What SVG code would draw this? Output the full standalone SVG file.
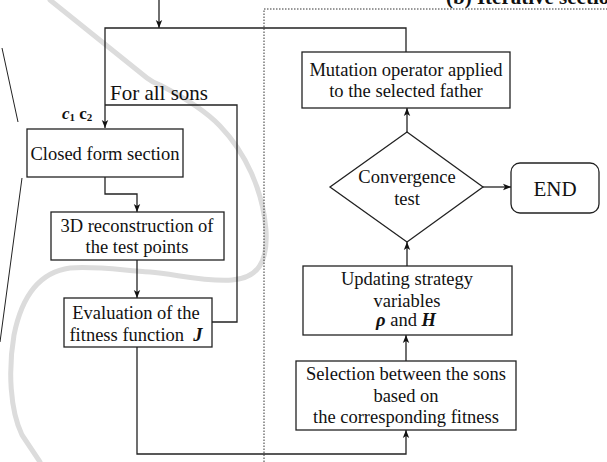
<svg xmlns="http://www.w3.org/2000/svg" width="607" height="462" viewBox="0 0 607 462">
<style>
.box{fill:#fff;stroke:#222;stroke-width:1.3}
.ln{fill:none;stroke:#222;stroke-width:1.3}
.t{font-family:"Liberation Serif","Times New Roman",serif;font-size:18.5px;fill:#111;text-anchor:middle}
.dot{fill:none;stroke:#333;stroke-width:1;stroke-dasharray:1.5 1.5}
</style>
<defs>
<marker id="ah" markerUnits="userSpaceOnUse" markerWidth="8" markerHeight="8" viewBox="0 0 8 8" refX="8" refY="4" orient="auto">
<path d="M0,0.8 L8,4 L0,7.2 L2,4 Z" fill="#111"/>
</marker>
</defs>
<rect width="607" height="462" fill="#fff"/>

<!-- callout lines and highlight curve -->
<g id="decor">
<path d="M50,0 L147,78 Q152,82 160,85 C185,98 205,110 220,126 C245,152 263,190 266,230 C268,262 258,278 232,280 C205,282 175,274 150,272 C120,270 95,266 70,268 C40,272 22,295 14,335 C8,370 10,410 22,435 L40,462" fill="none" stroke="#dcdcdc" stroke-width="5" stroke-linecap="round"/>
<line x1="2" y1="48" x2="18" y2="122" stroke="#222" stroke-width="1"/>
<line x1="22" y1="178" x2="0" y2="342" stroke="#222" stroke-width="1"/>
<path class="dot" d="M264,462 L264,9 L607,9"/>
<text x="446" y="4" style="font-family:'Liberation Serif',serif;font-size:21px;font-weight:bold;fill:#111">(b) Iterative section</text>
</g>

<g id="connectors">
<line class="ln" x1="159" y1="0" x2="159" y2="28" marker-end="url(#ah)"/>
<polyline class="ln" points="406,52 406,28 105,28 105,128" marker-end="url(#ah)"/>
<polyline class="ln" points="212,322 237,322 237,105 105,105"/>
<polyline class="ln" points="105,177 105,194 137,194 137,212" marker-end="url(#ah)"/>
<line class="ln" x1="137" y1="260" x2="137" y2="298" marker-end="url(#ah)"/>
<polyline class="ln" points="137,347 137,454 406,454 406,430" marker-end="url(#ah)"/>
<line class="ln" x1="406" y1="361" x2="406" y2="335" marker-end="url(#ah)"/>
<line class="ln" x1="407" y1="266" x2="407" y2="242" marker-end="url(#ah)"/>
<line class="ln" x1="407" y1="132" x2="407" y2="108" marker-end="url(#ah)"/>
<line class="ln" x1="483" y1="187" x2="511" y2="187" marker-end="url(#ah)"/>
<text x="110" y="100" style="font-family:'Liberation Serif',serif;font-size:21px;fill:#111">For all sons</text>
<text x="62" y="119" style="font-family:'Liberation Serif',serif;font-size:17px;font-weight:bold;fill:#111"><tspan font-style="italic">c</tspan><tspan font-size="11" dy="2">1</tspan><tspan dy="-2"> c</tspan><tspan font-size="11" dy="2">2</tspan></text>
</g>

<g id="closed">
<rect class="box" x="27" y="129" width="156" height="48"/>
<text class="t" x="105" y="160">Closed form section</text>
</g>

<g id="recon">
<rect class="box" x="51" y="212" width="173" height="48"/>
<text class="t" x="137" y="232">3D reconstruction of</text>
<text class="t" x="137" y="253">the test points</text>
</g>

<g id="eval">
<rect class="box" x="64" y="298" width="148" height="49"/>
<text class="t" x="136" y="319">Evaluation of the</text>
<text class="t" x="136" y="341">fitness function&#160;&#160;<tspan font-style="italic" font-weight="bold">J</tspan></text>
</g>

<g id="mutation">
<rect class="box" x="302" y="52" width="208" height="56"/>
<text class="t" x="406" y="76">Mutation operator applied</text>
<text class="t" x="406" y="97">to the selected father</text>
</g>

<g id="convergence">
<polygon class="box" points="407,132 483,187 407,242 330,187"/>
<text class="t" x="407" y="183">Convergence</text>
<text class="t" x="407" y="205">test</text>
</g>

<g id="end">
<rect class="box" x="511" y="163" width="88" height="50" rx="9"/>
<text class="t" x="555" y="196" style="font-size:21px">END</text>
</g>

<g id="updating">
<rect class="box" x="303" y="266" width="209" height="69"/>
<text class="t" x="407" y="285">Updating strategy</text>
<text class="t" x="407" y="307">variables</text>
<text class="t" x="406" y="326"><tspan font-style="italic" font-weight="bold">ρ</tspan> and <tspan font-style="italic" font-weight="bold">H</tspan></text>
</g>

<g id="selection">
<rect class="box" x="296" y="361" width="220" height="69"/>
<text class="t" x="406" y="380">Selection between the sons</text>
<text class="t" x="406" y="402">based on</text>
<text class="t" x="406" y="423">the corresponding fitness</text>
</g>
</svg>
